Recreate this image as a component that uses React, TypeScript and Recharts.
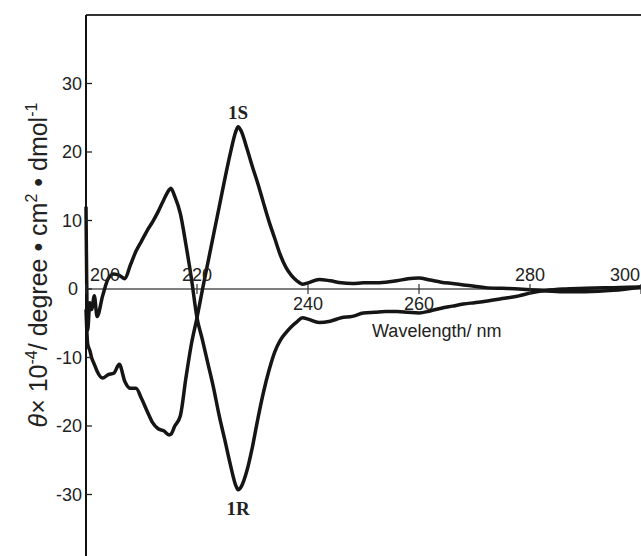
import React from "react";
import {
  LineChart,
  Line,
  XAxis,
  YAxis,
  ReferenceLine,
  ReferenceDot,
  Customized,
} from "recharts";

// wavelength (nm)
const wavelengths = [
  200, 200.3, 200.7, 201, 201.5, 202, 203, 204, 205, 206, 207, 208, 209, 210,
  211, 212, 213, 214, 215, 215.3, 216, 217, 218, 219, 220, 221, 222, 223, 224,
  225, 226, 227, 227.4, 228, 229, 230, 231, 232, 233, 234, 235, 236, 237, 238,
  239, 240, 242, 244, 246, 248, 250, 252, 254, 256, 258, 260, 262, 264, 266,
  268, 270, 272, 275, 278, 280, 283, 286, 290, 295, 300,
];

// theta x 10^-4, compound 1S
const s1 = [
  -3, -8, -9, -10, -11, -12, -13, -12.5, -12.3, -11, -13.5, -14.5, -14.5, -16,
  -17.8, -19.5, -20.4, -20.7, -21.3, -21.2, -20, -18.5, -13, -8, -4.2, 0, 4, 8,
  12, 16, 19.8, 23, 23.7, 23, 20.5, 17.8, 15.3, 12.5, 9.8, 7.4, 5, 3.2, 2, 1.2,
  0.7, 0.9, 1.4, 1.2, 0.9, 0.8, 0.9, 0.9, 1, 1.2, 1.5, 1.6, 1.3, 1, 0.8, 0.6,
  0.4, 0.2, 0.1, 0, -0.1, -0.3, -0.4, -0.4, -0.2, 0.3,
];

// theta x 10^-4, compound 1R
const r1 = [
  12, -6, -2, -3, -1, -4, -1, 1.5, 2.2, 2, 1.5, 3.5, 5.5, 7, 8.5, 9.8, 11.3,
  13, 14.5, 14.7, 13.5, 11, 6.5, 1.5, -4.2, -7.5, -11, -14.5, -18.5, -22,
  -25.6, -28.7, -29.3, -28.8, -26.5, -23, -18.8, -15, -11.8, -9.2, -7.5, -6.4,
  -5.5, -4.8, -4.2, -4.4, -4.9, -4.7, -4.2, -4, -3.5, -3.4, -3.3, -3.3, -3.4,
  -3.5, -3.2, -2.8, -2.5, -2.2, -2, -1.8, -1.4, -1, -0.6, -0.2, 0, 0.1, 0.2,
  0.3,
];

const xTicks = [200, 220, 240, 260, 280, 300];
const xTickBelow = [240, 260];
const yTicks = [-30, -20, -10, 0, 10, 20, 30];

const data = wavelengths.map((w, i) => ({ w, s: s1[i], r: r1[i] }));

const FONT = "'Liberation Sans', Arial, Helvetica, sans-serif";
const SERIF = "'Liberation Serif', 'Times New Roman', serif";

const YTick = (props: any) => {
  const { x, y, payload } = props;
  const shift = payload.value === 0 ? -4 : 0;
  return (
    <g>
      <line x1={x + 4} x2={x + 10} y1={y} y2={y} stroke="#222" strokeWidth={1.3} />
      <text x={x + shift} y={y} dy={6} textAnchor="end" fontSize={18} fontFamily={FONT} fill="#222">
        {payload.value}
      </text>
    </g>
  );
};

const XTickMark = (value: number) => (props: any) => {
  const { cx, cy } = props;
  const below = xTickBelow.includes(value);
  let anchor = "middle";
  let tx = cx;
  if (value === 200) {
    anchor = "start";
    tx = cx + 4;
  } else if (value === 300) {
    anchor = "end";
    tx = cx - 1;
  }
  return (
    <g>
      <line x1={cx} x2={cx} y1={cy - 5} y2={cy + 5} stroke="#333" strokeWidth={1.2} />
      <text x={tx} y={below ? cy + 21 : cy - 8} textAnchor={anchor} fontSize={18} fontFamily={FONT} fill="#222">
        {value}
      </text>
    </g>
  );
};

const TextAt = (label: string, dy: number, font: string, bold: boolean, anchor = "middle") => (props: any) => (
  <text
    x={props.cx}
    y={props.cy + dy}
    textAnchor={anchor}
    fontSize={bold ? 19 : 18}
    fontWeight={bold ? "bold" : "normal"}
    fontFamily={font}
    fill="#222"
  >
    {label}
  </text>
);

const YLabel = () => (
  <text
    transform="translate(47,265) rotate(-90)"
    textAnchor="middle"
    fontSize={25}
    fontFamily={FONT}
    fill="#222"
  >
    <tspan fontStyle="italic">θ</tspan>
    <tspan>× 10</tspan>
    <tspan fontSize={16} dy={-10}>-4</tspan>
    <tspan dy={10}>/ degree • cm</tspan>
    <tspan fontSize={16} dy={-10}>2</tspan>
    <tspan dy={10}> • dmol</tspan>
    <tspan fontSize={16} dy={-10}>-1</tspan>
  </text>
);

export default function App() {
  return (
    <div style={{ position: "absolute", left: 0, top: 0, background: "#fff" }}>
      <LineChart
        width={641}
        height={575}
        data={data}
        margin={{ top: 15, right: 0, bottom: 12, left: 0 }}
      >
        <XAxis dataKey="w" type="number" domain={[200, 300]} hide />
        <YAxis
          type="number"
          domain={[-40, 40]}
          ticks={yTicks}
          width={86}
          tickSize={4}
          tickMargin={0}
          tickLine={false}
          axisLine={{ stroke: "#111", strokeWidth: 2 }}
          tick={YTick}
          interval={0}
        />
        <ReferenceLine y={40} stroke="#333" strokeWidth={2} />
        <ReferenceLine y={0} stroke="#555" strokeWidth={1.3} />
        {xTicks.map((t) => (
          <ReferenceDot key={t} x={t} y={0} r={0} shape={XTickMark(t)} />
        ))}
        <Line
          dataKey="s"
          type="monotone"
          stroke="#151515"
          strokeWidth={3.5}
          dot={false}
          isAnimationActive={false}
        />
        <Line
          dataKey="r"
          type="monotone"
          stroke="#151515"
          strokeWidth={3.5}
          dot={false}
          isAnimationActive={false}
        />
        <ReferenceDot x={227.4} y={23.7} r={0} shape={TextAt("1S", -8, SERIF, true)} />
        <ReferenceDot x={227.4} y={-29.3} r={0} shape={TextAt("1R", 25, SERIF, true)} />
        <ReferenceDot x={263.2} y={-7} r={0} shape={TextAt("Wavelength/ nm", 0, FONT, false)} />
        <Customized component={YLabel} />
      </LineChart>
    </div>
  );
}
